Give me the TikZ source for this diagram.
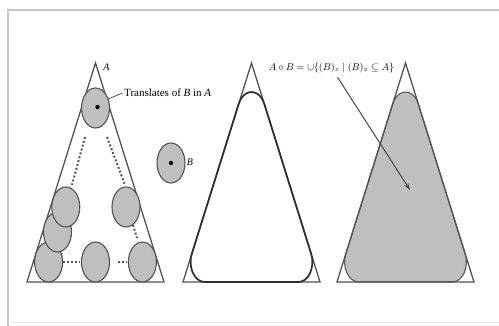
\documentclass[tikz,border=0pt]{standalone}
\usepackage{fontspec}
\setmainfont{Liberation Serif}
\usetikzlibrary{shapes.geometric,arrows.meta}

\begin{document}
\begin{tikzpicture}[x=1pt,y=1pt,
  tri/.style={draw=black!68, line width=1.3pt, line join=miter},
  transl/.style={ellipse, draw=black!68, fill=black!25, line width=1.1pt,
    minimum width=28pt, minimum height=40pt, inner sep=0pt},
  dots/.style={draw=black!65, line width=2pt, dash pattern=on 2pt off 2pt},
  lbl/.style={font=\fontsize{11}{12}\selectfont, inner sep=0pt},
  mlbl/.style={font=\fontsize{10}{11}\selectfont, inner sep=0pt},
  ital/.style={font=\fontsize{10}{11}\selectfont\itshape, inner sep=0pt},
]
\useasboundingbox (0,0) rectangle (499,326);

% page frame
\draw[black!22, line width=2pt] (8,0) -- (8,316) -- (499,316);
\draw[black!8, line width=1pt] (8,3) -- (499,3);

% ---- left: triangle A with translates of B ----
\begin{scope}[shift={(95.5,0)}]
  \draw[tri] (0,263) -- (68.5,44) -- (-68.5,44) -- cycle;
  \draw[dots] (-10.5,189) -- (-23.5,141);
  \draw[dots] (11.5,189) -- (29.5,141);
  \draw[dots] (-32.5,64) -- (-15.5,64);
  \draw[dots] (22.5,64) -- (31,64);
  \draw[dots] (37.5,101) -- (41.5,88);
  \node[transl] (t4) at (-46.9,64) {};
  \node[transl] (t3) at (-38,94) {};
  \node[transl] (t2) at (-29.7,119) {};
  \node[transl] (t5) at (30.5,119) {};
  \node[transl] (t6) at (0,64) {};
  \node[transl] (t7) at (46.9,64) {};
  \node[transl] (t1) at (0,218) {};
  \fill[black] ([shift={(2,1)}]t1.center) circle (2.2);
  \node[ital] (la) at (11,259) {A};
  \node[lbl, anchor=west] (tlab) at (28.5,233) {Translates of \textit{B} in \textit{A}};
  \draw[black!70, line width=0.8pt] (t1.35) -- ([xshift=-1.5]tlab.west);
\end{scope}

% ---- structuring element B ----
\node[transl] (b) at (171,163) {};
\fill[black] (b.center) circle (2.2);
\node[ital] (lb) at (190,164) {B};

% ---- middle: boundary of the opening ----
\begin{scope}[shift={(251.5,0)}]
  \draw[tri] (0,263) -- (68.5,44) -- (-68.5,44) -- cycle;
  \draw[black!82, line width=1.7pt]
    (-12.78,222.13) arc[start angle=155.92, end angle=24.08, x radius=14, y radius=20]
    -- (59.68,72.16) arc[start angle=24.08, end angle=-90, x radius=14, y radius=20]
    -- (-46.9,44) arc[start angle=270, end angle=155.92, x radius=14, y radius=20]
    -- cycle;
\end{scope}

% ---- right: the opening, shaded ----
\begin{scope}[shift={(405.5,0)}]
  \filldraw[fill=black!25, draw=black!65, line width=1.1pt]
    (-12.78,222.13) arc[start angle=155.92, end angle=24.08, x radius=14, y radius=20]
    -- (59.68,72.16) arc[start angle=24.08, end angle=-90, x radius=14, y radius=20]
    -- (-46.9,44) arc[start angle=270, end angle=155.92, x radius=14, y radius=20]
    -- cycle;
  \draw[tri] (0,263) -- (68.5,44) -- (-68.5,44) -- cycle;
\end{scope}

\node[mlbl] (olab) at (331.5,258) {$A\circ B=\cup\{(B)_z\mid(B)_z\subseteq A\}$};
\coordinate (tip) at (410,136);
\draw[black!72, line width=1pt, -{Stealth[length=7pt,width=4.5pt]}]
  ([shift={(6,-4)}]olab.south) -- (tip);
\end{tikzpicture}
\end{document}
